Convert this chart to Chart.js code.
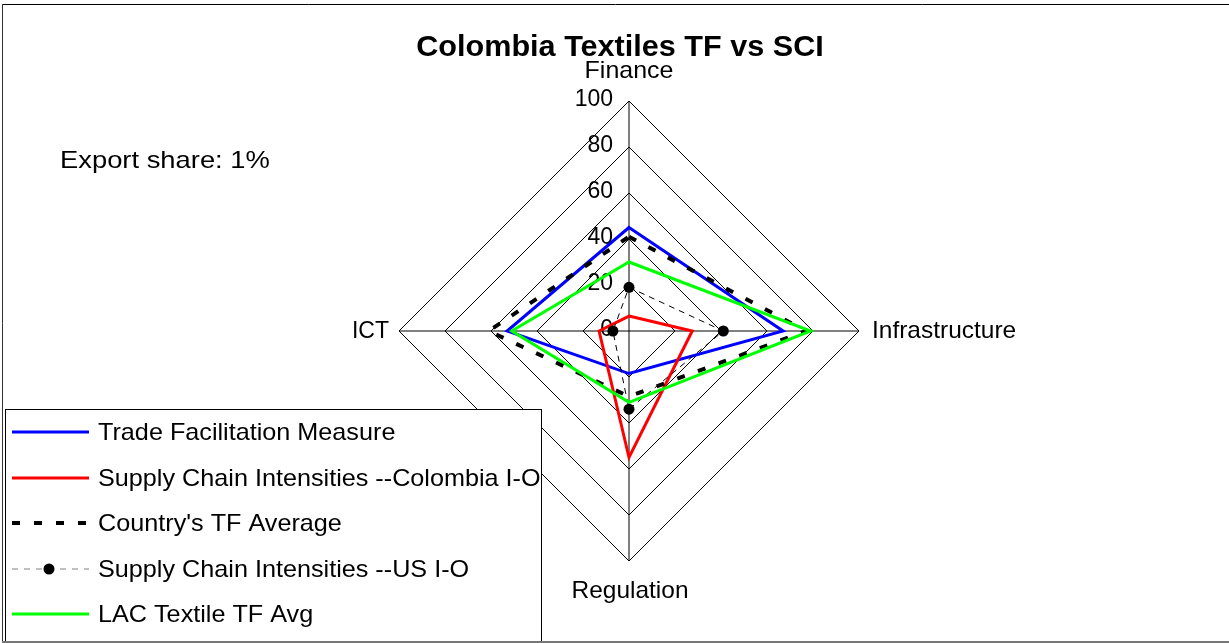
<!DOCTYPE html>
<html>
<head>
<meta charset="utf-8">
<title>Colombia Textiles TF vs SCI</title>
<script src="https://cdn.jsdelivr.net/npm/chart.js@4.4.1/dist/chart.umd.min.js"></script>
<style>
  body { margin: 0; background: #fff; }
  #wrap { position: relative; width: 1229px; height: 643px; overflow: hidden; }
</style>
</head>
<body>
<div id="wrap"><canvas id="radar" width="1229" height="643"></canvas></div>
<script>
// Data
const axes = ['Finance', 'Infrastructure', 'Regulation', 'ICT'];
const tickValues = [0, 20, 40, 60, 80, 100];
const tradeFacilitation = [45, 67, 18.5, 53];
const colombiaIO = [6.5, 27.5, 55, 13];
const countryAvg = [41, 77, 28.5, 61];
const usIO = [19, 41, 34, 7];
const lacAvg = [30, 79, 31, 51];

const seriesNames = [
    'Trade Facilitation Measure',
    'Supply Chain Intensities --Colombia I-O',
    "Country's TF Average",
    'Supply Chain Intensities --US I-O',
    'LAC Textile TF Avg'
];
const chartTitle = 'Colombia Textiles TF vs SCI';
const exportNote = 'Export share: 1%';

const FONT = '"Liberation Sans", Arial, sans-serif';

// draw text with a small horizontal stretch (the source font renders wider)
function stretchText(ctx, text, x, y, align, base, sx) {
    ctx.save();
    ctx.translate(x, y);
    ctx.scale(sx, 1);
    ctx.textAlign = align;
    ctx.textBaseline = base;
    ctx.fillText(text, 0, 0);
    ctx.restore();
}

// Tick labels sit left of the vertical axis, below the series lines
const tickLabelPlugin = {
    id: 'tickLabels',
    beforeDatasetsDraw(chart) {
        const r = chart.scales.r;
        const ctx = chart.ctx;
        ctx.save();
        ctx.fillStyle = '#000';
        ctx.font = '23px ' + FONT;
        r.ticks.forEach(t => {
            const d = r.getDistanceFromCenterForValue(t.value);
            stretchText(ctx, String(t.value), r.xCenter - 16, r.yCenter - d - 1, 'right', 'middle', 1.0);
        });
        ctx.restore();
    }
};

// Axis names, title, note, legend box and frame
const decorPlugin = {
    id: 'decor',
    afterDraw(chart) {
        const r = chart.scales.r;
        const ctx = chart.ctx;
        ctx.save();
        ctx.fillStyle = '#000';

        // axis names
        ctx.font = '24px ' + FONT;
        const offsets = [
            { dx: 0, dy: -23, align: 'center', base: 'alphabetic', sx: 1.04 },
            { dx: 13, dy: 0, align: 'left', base: 'middle', sx: 1.02 },
            { dx: 1, dy: 37, align: 'center', base: 'alphabetic', sx: 1.02 },
            { dx: -10, dy: 0, align: 'right', base: 'middle', sx: 0.96 }
        ];
        axes.forEach((name, i) => {
            const p = r.getPointPosition(i, r.drawingArea);
            const o = offsets[i];
            stretchText(ctx, name, p.x + o.dx, p.y + o.dy, o.align, o.base, o.sx);
        });

        // title
        ctx.font = 'bold 30px ' + FONT;
        stretchText(ctx, chartTitle, 620, 56, 'center', 'alphabetic', 1.02);

        // export share note
        ctx.font = '24px ' + FONT;
        stretchText(ctx, exportNote, 60, 168, 'left', 'alphabetic', 1.14);

        // legend box
        ctx.fillStyle = '#fff';
        ctx.fillRect(5, 409, 536, 240);
        ctx.strokeStyle = '#000';
        ctx.lineWidth = 1;
        ctx.strokeRect(5.5, 409.5, 536, 240);

        const rowY = [432, 478, 523, 569, 614];
        chart.data.datasets.forEach((ds, i) => {
            const y = rowY[i];
            ctx.save();
            ctx.beginPath();
            if (i === 3) {
                ctx.strokeStyle = '#808080';
                ctx.lineWidth = 1;
                ctx.setLineDash([6, 6]);
            } else {
                ctx.strokeStyle = ds.borderColor;
                ctx.lineWidth = ds.borderWidth;
                ctx.setLineDash(ds.borderDash || []);
            }
            ctx.moveTo(12, y);
            ctx.lineTo(89, y);
            ctx.stroke();
            if (ds.pointRadius > 0) {
                ctx.setLineDash([]);
                ctx.fillStyle = ds.pointBackgroundColor;
                ctx.beginPath();
                ctx.arc(49, y, ds.pointRadius, 0, Math.PI * 2);
                ctx.fill();
            }
            ctx.restore();
            ctx.fillStyle = '#000';
            ctx.font = '24px ' + FONT;
            stretchText(ctx, ds.label, 98, y + 1, 'left', 'middle', 1.05);
        });

        // outer frame
        ctx.strokeStyle = '#000';
        ctx.lineWidth = 1;
        ctx.beginPath();
        ctx.moveTo(2, 4.5);
        ctx.lineTo(1229, 4.5);
        ctx.stroke();
        ctx.strokeStyle = '#333';
        ctx.beginPath();
        ctx.moveTo(2.5, 4);
        ctx.lineTo(2.5, 643);
        ctx.stroke();
        ctx.strokeStyle = '#777';
        ctx.lineWidth = 2;
        ctx.beginPath();
        ctx.moveTo(2, 642);
        ctx.lineTo(1229, 642);
        ctx.stroke();
        ctx.restore();
    }
};

function lineSet(label, data, color, width, order, extra) {
    return Object.assign({
        label: label,
        data: data,
        borderColor: color,
        backgroundColor: 'transparent',
        borderWidth: width,
        fill: false,
        pointRadius: 0,
        pointHoverRadius: 0,
        order: order
    }, extra || {});
}

const ctx = document.getElementById('radar').getContext('2d');
const chart = new Chart(ctx, {
    type: 'radar',
    data: {
        labels: axes,
        datasets: [
            lineSet(seriesNames[0], tradeFacilitation, '#0000ff', 3, 4),
            lineSet(seriesNames[1], colombiaIO, '#ff0000', 3, 3),
            lineSet(seriesNames[2], countryAvg, '#000000', 4, 2, { borderDash: [8, 14] }),
            lineSet(seriesNames[3], usIO, '#000000', 1, 1, {
                borderDash: [6, 5],
                pointRadius: 5.5,
                pointBackgroundColor: '#000000',
                pointBorderColor: '#000000',
                pointBorderWidth: 0
            }),
            lineSet(seriesNames[4], lacAvg, '#00ff00', 3, 0)
        ]
    },
    options: {
        responsive: false,
        animation: false,
        layout: {
            padding: { top: 101, bottom: 82, left: 399, right: 370 }
        },
        elements: {
            line: { tension: 0 }
        },
        plugins: {
            legend: { display: false },
            title: { display: false },
            tooltip: { enabled: false }
        },
        scales: {
            r: {
                min: 0,
                max: 100,
                beginAtZero: true,
                ticks: {
                    stepSize: 20,
                    display: false
                },
                grid: {
                    color: '#000',
                    lineWidth: 1
                },
                angleLines: {
                    color: '#000',
                    lineWidth: 1
                },
                pointLabels: {
                    display: false
                }
            }
        }
    },
    plugins: [tickLabelPlugin, decorPlugin]
});
</script>
</body>
</html>
